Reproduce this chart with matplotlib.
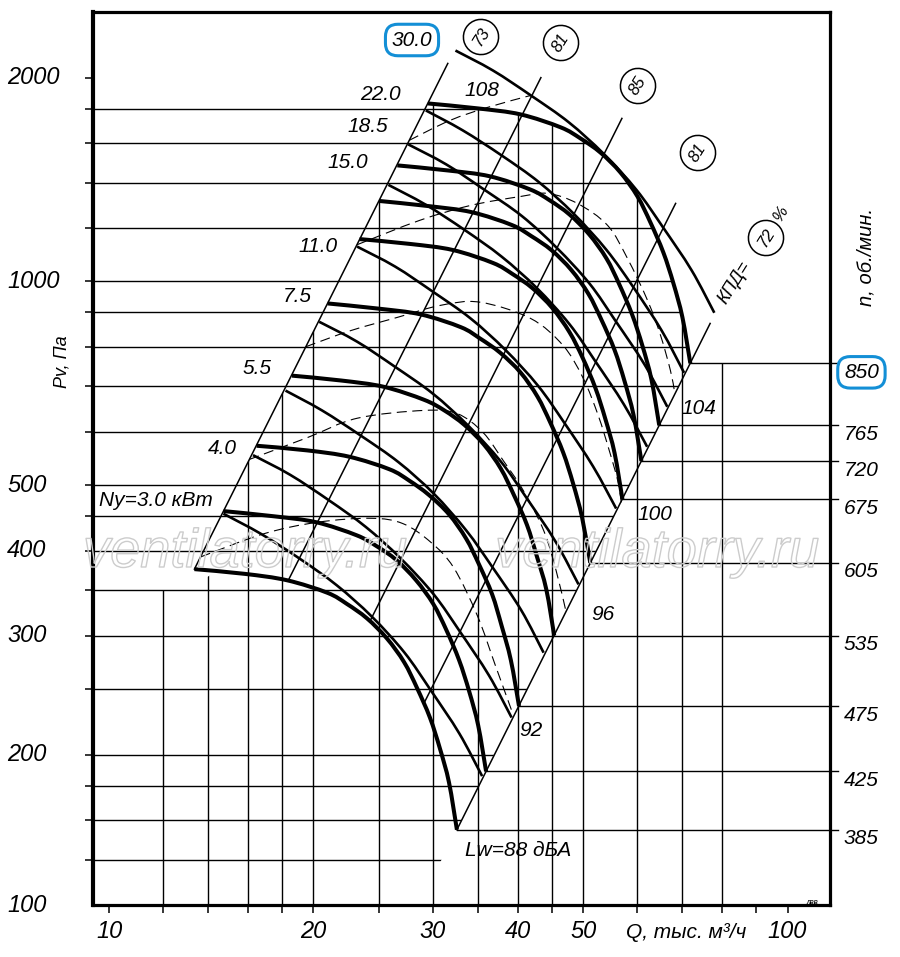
import numpy as np
import matplotlib
matplotlib.use("Agg")
import matplotlib.pyplot as plt
from matplotlib.patches import Polygon, PathPatch
from matplotlib.path import Path
from matplotlib.ticker import FixedLocator, NullFormatter, NullLocator
from matplotlib import patheffects as pe

plt.rcParams["font.family"] = ["Liberation Sans", "DejaVu Sans"]
plt.rcParams["font.style"] = "italic"

# axis range, Q in thousand m3/h, Pv in Pa
Q_MIN, Q_MAX = 9.47, 115.5
P_MIN, P_MAX = 120, 2500

GRID_Q = [12, 14, 16, 18, 20, 25, 30, 35, 40, 45, 50, 60, 70, 80]
GRID_P = [140, 160, 180, 200, 250, 300, 350, 400, 450, 500, 600, 700,
          800, 900, 1000, 1200, 1400, 1600, 1800]
X_TICK_MINOR = GRID_Q + [90]
X_LABEL_POS = [10, 20, 30, 40, 50, 100]
X_LABEL_TEXT = ["10", "20", "30", "40", "50", "100"]
Y_LABEL_POS = [120, 200, 300, 400, 500, 1000, 2000]
Y_LABEL_TEXT = ["100", "200", "300", "400", "500", "1000", "2000"]

# fan curves, one per speed (rpm)
SPEEDS = [850, 765, 720, 675, 605, 535, 475, 425, 385]
q_850 = [29.5, 35.0, 40.4, 46.3, 49.5, 53.0, 56.7, 60.1, 62.8, 65.6, 67.9, 70.0, 71.9]
p_850 = [1832, 1801, 1765, 1689, 1627, 1550, 1449, 1335, 1222, 1104, 993, 885, 757]
q_765 = [26.6, 31.5, 36.4, 41.7, 44.6, 47.7, 51.0, 54.1, 56.5, 59.0, 61.1, 63.0, 64.7]
p_765 = [1484, 1459, 1430, 1368, 1318, 1256, 1174, 1081, 990, 894, 804, 717, 613]
q_720 = [25.0, 29.6, 34.2, 39.2, 41.9, 44.9, 48.0, 50.9, 53.2, 55.6, 57.5, 59.3, 60.9]
p_720 = [1315, 1292, 1266, 1212, 1167, 1112, 1040, 958, 877, 792, 713, 635, 543]
q_675 = [23.4, 27.8, 32.1, 36.8, 39.3, 42.1, 45.0, 47.7, 49.9, 52.1, 53.9, 55.6, 57.1]
p_675 = [1155, 1136, 1113, 1065, 1026, 977, 914, 842, 771, 696, 626, 558, 477]
q_605 = [21.0, 24.9, 28.8, 33.0, 35.2, 37.7, 40.4, 42.8, 44.7, 46.7, 48.3, 49.8, 51.2]
p_605 = [928, 912, 894, 856, 824, 785, 734, 676, 619, 559, 503, 448, 384]
q_535 = [18.6, 22.0, 25.4, 29.1, 31.2, 33.4, 35.7, 37.8, 39.5, 41.3, 42.7, 44.1, 45.3]
p_535 = [726, 714, 699, 669, 645, 614, 574, 529, 484, 437, 393, 351, 300]
q_475 = [16.5, 19.6, 22.6, 25.9, 27.7, 29.6, 31.7, 33.6, 35.1, 36.7, 37.9, 39.1, 40.2]
p_475 = [572, 563, 551, 528, 508, 484, 453, 417, 382, 345, 310, 276, 236]
q_425 = [14.75, 17.5, 20.2, 23.15, 24.75, 26.5, 28.35, 30.05, 31.4, 32.8, 33.95, 35.0, 35.95]
p_425 = [458, 450, 441, 422, 407, 388, 362, 334, 306, 276, 248, 221, 189]
q_385 = [13.36, 15.85, 18.3, 20.97, 22.42, 24.0, 25.68, 27.22, 28.44, 29.71, 30.75, 31.7, 32.56]
p_385 = [376, 370, 362, 347, 334, 318, 297, 274, 251, 227, 204, 182, 155]
SPEED_CURVES = [(q_850, p_850), (q_765, p_765), (q_720, p_720), (q_675, p_675),
                (q_605, p_605), (q_535, p_535), (q_475, p_475), (q_425, p_425),
                (q_385, p_385)]

# motor power lines, kW
POWERS = ["30.0", "22.0", "18.5", "15.0", "11.0", "7.5", "5.5", "4.0", "3.0"]
q_n30 = [32.4, 36.8, 41.9, 47.6, 53.6, 59.9, 65.5, 72.2, 78.0]
p_n30 = [2193, 2049, 1881, 1718, 1543, 1365, 1203, 1039, 899]
q_n22 = [29.3, 33.2, 37.9, 43.0, 48.4, 54.1, 59.2, 65.2, 70.4]
p_n22 = [1789, 1672, 1535, 1402, 1259, 1113, 982, 847, 733]
q_n18 = [27.6, 31.4, 35.7, 40.6, 45.7, 51.1, 55.8, 61.5, 66.5]
p_n18 = [1594, 1489, 1367, 1249, 1121, 992, 874, 755, 653]
q_n15 = [25.8, 29.3, 33.4, 37.9, 42.7, 47.7, 52.1, 57.4, 62.1]
p_n15 = [1389, 1298, 1192, 1088, 978, 865, 762, 658, 570]
q_n11 = [23.2, 26.4, 30.0, 34.1, 38.4, 42.9, 46.9, 51.7, 55.9]
p_n11 = [1126, 1052, 966, 882, 792, 701, 618, 533, 462]
q_n7 = [20.4, 23.2, 26.4, 30.0, 33.8, 37.8, 41.3, 45.5, 49.2]
p_n7 = [872, 815, 748, 683, 613, 542, 478, 413, 357]
q_n5 = [18.2, 20.6, 23.5, 26.7, 30.1, 33.6, 36.7, 40.5, 43.7]
p_n5 = [690, 645, 592, 541, 486, 429, 379, 327, 283]
q_n4 = [16.3, 18.5, 21.1, 23.9, 26.9, 30.1, 32.9, 36.3, 39.2]
p_n4 = [554, 518, 475, 434, 390, 345, 304, 262, 227]
q_n3 = [14.74, 16.74, 19.07, 21.65, 24.39, 27.26, 29.8, 32.83, 35.47]
p_n3 = [454, 424, 390, 356, 320, 283, 249, 215, 186]
POWER_LINES = [(q_n30, p_n30), (q_n22, p_n22), (q_n18, p_n18), (q_n15, p_n15),
               (q_n11, p_n11), (q_n7, p_n7), (q_n5, p_n5), (q_n4, p_n4),
               (q_n3, p_n3)]

# efficiency rays (KPD, %), lower and upper end
EFF_LABELS = ["73", "81", "85", "81", "72"]
EFF_Q = [(13.36, 31.57), (18.4, 43.3), (24.27, 57.0), (29.1, 68.4), (32.56, 76.9)]
EFF_P = [(376, 2099), (363, 2000), (315.7, 1741), (238, 1304), (155, 867)]

# noise level borders (dashed)
d1_q = [13.65, 16.9, 20.3, 24.3, 27.1, 29.8, 32.2, 34.9, 37.1, 39.3]
d1_p = [392, 424, 441, 447, 439, 412, 378, 321, 271, 231]
d2_q = [16.1, 19.6, 23.2, 29.1, 32.6, 35.6, 38.1, 40.8, 43.7, 45.6, 47.2]
d2_p = [546, 588, 628, 645, 638, 598, 544, 491, 429, 374, 324]
d3_q = [19.5, 22.7, 26.6, 30.8, 35.2, 41.8, 46.7, 50.0, 52.6, 54.6, 56.2, 56.9]
d3_p = [801, 846, 885, 922, 932, 882, 804, 719, 634, 563, 508, 472]
d4_q = [23.2, 28.7, 34.1, 40.4, 44.3, 49.0, 54.3, 58.1, 62.2, 65.0, 67.2, 68.1]
d4_p = [1133, 1231, 1295, 1335, 1349, 1304, 1210, 1081, 937, 832, 739, 690]
d5_q = [27.7, 31.8, 36.1, 41.8]
d5_p = [1616, 1729, 1807, 1882]
NOISE_LINES = [(d1_q, d1_p), (d2_q, d2_p), (d3_q, d3_p), (d4_q, d4_p), (d5_q, d5_p)]

W, H = 900, 957
BLUE = "#138fd6"


def fpos(x, y):
    """Figure pixel position -> figure fraction."""
    return x / W, 1 - y / H


def smooth_path(q, p):
    """Smooth Bezier path through the read points (Catmull-Rom in log space)."""
    pts = np.column_stack([np.log10(q), np.log10(p)])
    ext = np.vstack([pts[0], pts, pts[-1]])
    verts, codes = [pts[0]], [Path.MOVETO]
    for i in range(len(pts) - 1):
        p0, p1, p2, p3 = ext[i], ext[i + 1], ext[i + 2], ext[i + 3]
        verts += [p1 + (p2 - p0) / 6, p2 - (p3 - p1) / 6, p2]
        codes += [Path.CURVE4] * 3
    return Path(10 ** np.array(verts), codes)


def draw_curve(ax, q, p, **kw):
    ax.add_patch(PathPatch(smooth_path(q, p), fill=False, edgecolor="k",
                           capstyle="butt", **kw))


fig = plt.figure(figsize=(W / 100, H / 100), dpi=100)
ax = fig.add_axes([93 / W, 1 - 905 / H, (830 - 93) / W, (905 - 12) / H])
ax.set_xscale("log")
ax.set_yscale("log")
ax.set_xlim(Q_MIN, Q_MAX)
ax.set_ylim(P_MIN, P_MAX)

for side in ("right", "top", "bottom"):
    ax.spines[side].set_linewidth(2.3)
ax.spines["left"].set_linewidth(3.0)

ax.set_xticks(X_LABEL_POS, labels=X_LABEL_TEXT)
ax.xaxis.set_minor_locator(FixedLocator(X_TICK_MINOR))
ax.xaxis.set_minor_formatter(NullFormatter())
ax.yaxis.set_major_locator(NullLocator())
ax.yaxis.set_minor_locator(FixedLocator(GRID_P + [2000]))
ax.yaxis.set_minor_formatter(NullFormatter())
ax.tick_params(which="both", direction="out", length=6, width=1.1)
ax.tick_params(axis="x", labelsize=17, pad=5)

# grid, clipped to the working field
h_clip = Polygon([(5, 100), (5, 1900), (29.5, 1900)] + list(zip(q_850, p_850))
                 + [(32.56, 155.3), (27.0, 107)],
                 closed=True, transform=ax.transData, visible=False)
v_clip = Polygon([(5, 100), (5, 350), (13.0, 350), (14.5, 375), (15.0, 474)]
                 + list(zip(q_850, p_850)) + [(300, 757), (300, 100)],
                 closed=True, transform=ax.transData, visible=False)
ax.add_patch(h_clip)
ax.add_patch(v_clip)
hl = ax.hlines(GRID_P, 5, 300, colors="k", lw=1.0)
hl.set_clip_path(h_clip)
vl = ax.vlines(GRID_Q, 100, 3000, colors="k", lw=1.0)
vl.set_clip_path(v_clip)

# efficiency rays
for qq, pp in zip(EFF_Q, EFF_P):
    ax.plot(qq, pp, color="k", lw=1.1)

# noise borders
for qq, pp in NOISE_LINES:
    draw_curve(ax, qq, pp, lw=0.8, linestyle=(0, (9, 5)))

# power lines
for qq, pp in POWER_LINES:
    draw_curve(ax, qq, pp, lw=1.9)

# speed curves and their rpm lines to the right axis
for n, (qq, pp) in zip(SPEEDS, SPEED_CURVES):
    draw_curve(ax, qq, pp, lw=2.9)
    ax.plot([qq[-1], 118.5], [pp[-1], pp[-1]], color="k", lw=1.0, clip_on=False)
    box = None
    if n == 850:
        box = dict(boxstyle="round,pad=0.3,rounding_size=0.6", fc="white", ec=BLUE, lw=2.2)
    ax.annotate(str(n), xy=(1, pp[-1]), xycoords=("axes fraction", "data"),
                xytext=(14, -9), textcoords="offset pixels", ha="left", va="center",
                fontsize=15, bbox=box, annotation_clip=False)

# left axis labels
for pos, txt in zip(Y_LABEL_POS, Y_LABEL_TEXT):
    ax.annotate(txt, xy=(0, pos), xycoords=("axes fraction", "data"),
                xytext=(-86, 0), textcoords="offset pixels", ha="left", va="center",
                fontsize=17, annotation_clip=False)

fig.text(*fpos(62, 362), "Pv, Па", rotation=90, ha="center", va="center", fontsize=13)
fig.text(*fpos(866, 257), "n, об./мин.", rotation=90, ha="center", va="center", fontsize=14.5)
fig.text(*fpos(686, 932), "Q, тыс. м³/ч", ha="center", va="center", fontsize=15)

# power labels
power_pos = [(412, 40), (380, 95), (368, 127), (348, 163), (318, 246),
             (297, 297), (257, 369), (222, 448)]
for txt, (x, y) in zip(POWERS[:-1], power_pos):
    box = None
    if txt == "30.0":
        box = dict(boxstyle="round,pad=0.3,rounding_size=0.6", fc="white", ec=BLUE, lw=2.2)
    fig.text(*fpos(x, y), txt, ha="center", va="center", fontsize=15, bbox=box)
fig.text(*fpos(156, 501), "Ny=3.0 кВт", ha="center", va="center", fontsize=15)

# noise labels
for txt, (x, y) in zip(["108", "104", "100", "96", "92"],
                       [(482, 90), (699, 408), (655, 514), (603, 614), (531, 731)]):
    fig.text(*fpos(x, y), txt, ha="center", va="center", fontsize=15)
fig.text(*fpos(518, 850), "Lw=88 дБА", ha="center", va="center", fontsize=15)

# efficiency circles
for txt, (x, y) in zip(EFF_LABELS, [(481, 37), (561, 43), (638, 86), (698, 153), (766, 238)]):
    fig.text(*fpos(x, y), txt, rotation=58, ha="center", va="center", fontsize=12,
             bbox=dict(boxstyle="circle,pad=0.5", fc="white", ec="k", lw=1.1))
fig.text(*fpos(735, 283), "КПД=", rotation=58, ha="center", va="center", fontsize=13)
fig.text(*fpos(781, 213), "%", rotation=58, ha="center", va="center", fontsize=12)

fig.text(*fpos(812, 902), "ЛВВ", ha="center", va="center", fontsize=4, weight="bold")

# watermark
for x in (245, 657):
    fig.text(*fpos(x, 553), "ventilatorry.ru", ha="center", va="center", fontsize=39,
             color=(1, 1, 1, 0), zorder=20,
             path_effects=[pe.Stroke(linewidth=1.0, foreground="#cccccc"), pe.Normal()])

fig.savefig("out.png", dpi=100)
